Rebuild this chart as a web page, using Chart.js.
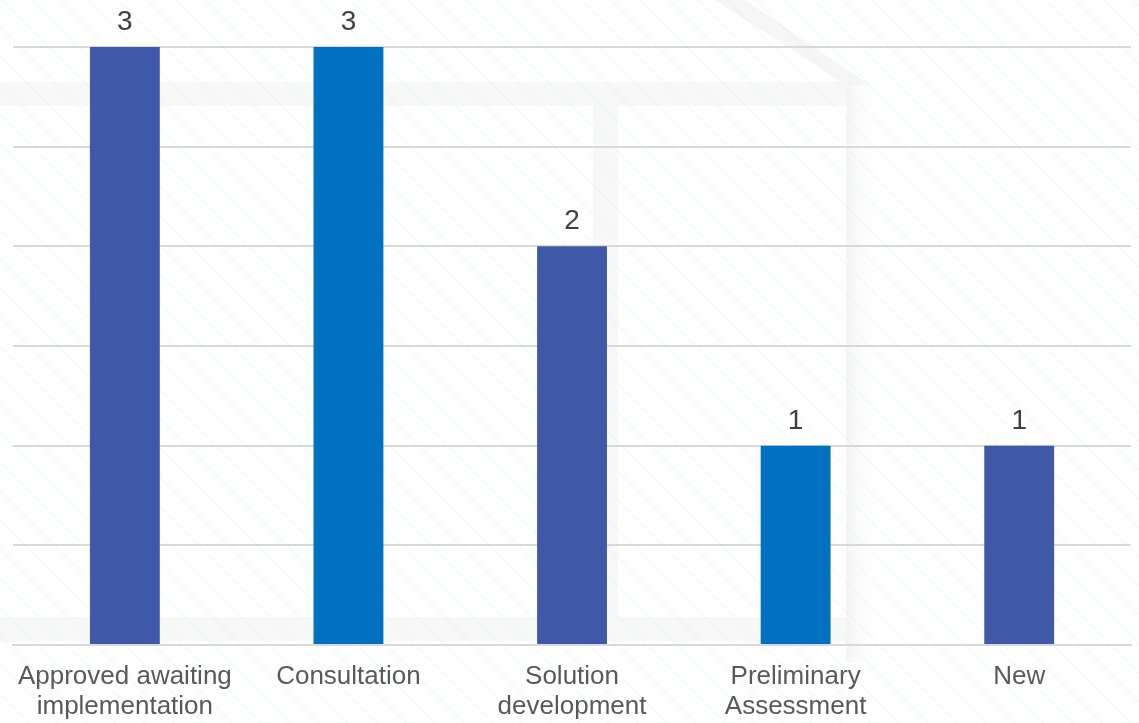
<!DOCTYPE html>
<html>
<head>
<meta charset="utf-8">
<script src="https://cdn.jsdelivr.net/npm/chart.js@4/dist/chart.umd.min.js"></script>
<style>
html,body{margin:0;padding:0;background:#fff;}
#wrap{width:1139px;height:723px;position:relative;}
</style>
</head>
<body>
<div id="wrap"><canvas id="c" width="1139" height="723"></canvas></div>
<script>
const categories = [
  ["Approved awaiting", "implementation"],
  ["Consultation"],
  ["Solution", "development"],
  ["Preliminary", "Assessment"],
  ["New"]
];
const values = [3, 3, 2, 1, 1];
const barColors = ["#3F58A8", "#0070C0", "#3F58A8", "#0070C0", "#3F58A8"];

const bgPlugin = {
  id: 'bg',
  beforeDraw(chart) {
    const ctx = chart.ctx, W = chart.width, H = chart.height;
    ctx.save();
    ctx.fillStyle = '#ffffff';
    ctx.fillRect(0, 0, W, H);
    // decorative light grey frames
    ctx.fillStyle = '#f8f8f8';
    ctx.fillRect(0, 82, 847, 24);
    ctx.fillRect(593, 106, 25, 511);
    ctx.fillRect(0, 617, 847, 25);
    const g = ctx.createLinearGradient(846, 0, 875, 0);
    g.addColorStop(0, 'rgba(244,244,244,1)');
    g.addColorStop(1, 'rgba(252,252,252,0)');
    ctx.fillStyle = g;
    ctx.fillRect(846, 82, 29, 580);
    // diagonal shade near top
    ctx.beginPath();
    ctx.moveTo(715, 0); ctx.lineTo(745, 0); ctx.lineTo(870, 85); ctx.lineTo(846, 85);
    ctx.closePath();
    ctx.fillStyle = 'rgba(244,244,244,0.8)';
    ctx.fill();
    // faint diagonal hatch
    ctx.strokeStyle = 'rgba(170,225,220,0.25)';
    ctx.lineWidth = 1;
    for (let x = -H; x < W + H; x += 29) {
      ctx.beginPath();
      ctx.moveTo(x, 0);
      ctx.lineTo(x + H, H);
      ctx.stroke();
    }
    ctx.restore();
  }
};

const labelPlugin = {
  id: 'vals',
  afterDatasetsDraw(chart) {
    const ctx = chart.ctx;
    const meta = chart.getDatasetMeta(0);
    ctx.save();
    ctx.font = '28px "Liberation Sans", Arial, sans-serif';
    ctx.fillStyle = '#404040';
    ctx.textAlign = 'center';
    ctx.textBaseline = 'alphabetic';
    meta.data.forEach((bar, i) => {
      ctx.fillText(String(values[i]), bar.x, bar.y - 17);
    });
    ctx.restore();
  }
};

new Chart(document.getElementById('c'), {
  type: 'bar',
  data: {
    labels: categories,
    datasets: [{
      data: values,
      backgroundColor: barColors,
      borderWidth: 0,
      categoryPercentage: 1.0,
      barPercentage: 0.3125
    }]
  },
  options: {
    responsive: false,
    animation: false,
    devicePixelRatio: 1,
    layout: { padding: { left: 9, right: 8, top: 47, bottom: 0 } },
    plugins: { legend: { display: false }, tooltip: { enabled: false }, title: { display: false } },
    scales: {
      x: {
        grid: { display: false, drawTicks: false },
        border: { display: true, color: '#d9d9d9', width: 2 },
        ticks: {
          color: '#595959',
          padding: 17,
          maxRotation: 0,
          autoSkip: false,
          font: { family: '"Liberation Sans", Arial, sans-serif', size: 26, lineHeight: 1.15 }
        },
        afterFit(scale) { scale.height = 78; }
      },
      y: {
        min: 0, max: 3,
        ticks: { display: false, stepSize: 0.5 },
        grid: { color: '#d9d9d9', lineWidth: 2, drawTicks: false },
        border: { display: false },
        afterFit(scale) { scale.width = 0; }
      }
    }
  },
  plugins: [bgPlugin, labelPlugin]
});
</script>
</body>
</html>
